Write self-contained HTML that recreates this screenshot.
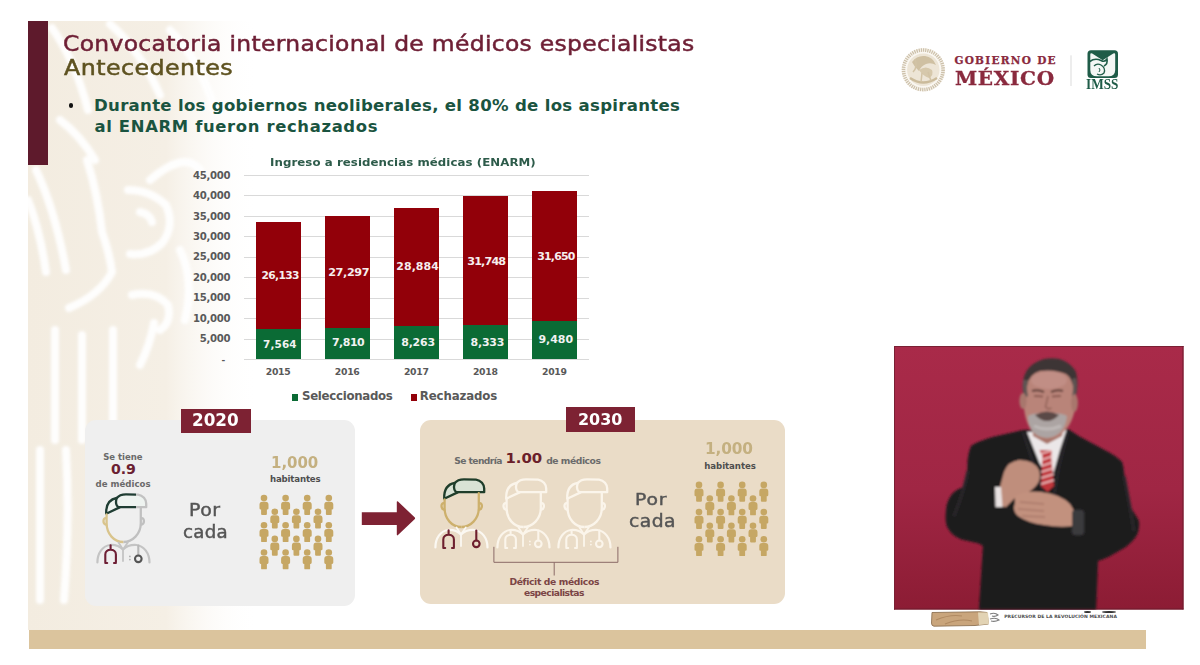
<!DOCTYPE html>
<html lang="es"><head><meta charset="utf-8"><title>Convocatoria internacional de médicos especialistas</title>
<style>
*{margin:0;padding:0;box-sizing:border-box}
html,body{width:1200px;height:665px;overflow:hidden;background:#ffffff}
body{position:relative;font-family:'DejaVu Sans','Liberation Sans',sans-serif}
.t{position:absolute;white-space:nowrap;line-height:1}
.a{position:absolute}
.b{position:absolute}
.g{position:absolute;left:243.5px;width:345.3px;height:1px;background:#d9d9d9}
</style></head><body>
<svg class="a" style="left:0;top:0" width="1200" height="665" viewBox="0 0 1200 665">
<defs><linearGradient id="bgf" x1="0" y1="0" x2="1" y2="0"><stop offset="0" stop-color="#f3ece0"/><stop offset="0.6" stop-color="#f5efe5"/><stop offset="1" stop-color="#ffffff" stop-opacity="0"/></linearGradient>
<linearGradient id="bgt" x1="0" y1="0" x2="1" y2="0"><stop offset="0" stop-color="#f7f3ec"/><stop offset="1" stop-color="#ffffff" stop-opacity="0"/></linearGradient>
<filter id="bgb" x="-10%" y="-10%" width="120%" height="120%"><feGaussianBlur stdDeviation="1.6"/></filter></defs>
<rect x="28" y="21" width="230" height="609" fill="url(#bgf)"/>
<g fill="none" stroke="#ffffff" stroke-width="8" stroke-linecap="round" opacity="0.95" filter="url(#bgb)">
<path d="M52 28 Q75 60 88 110"/>
<path d="M110 24 Q140 50 160 95"/>
<path d="M170 30 Q200 60 215 110"/>
<path d="M60 120 Q80 135 95 160"/>
<path d="M36 170 Q55 210 66 270"/>
<path d="M28 200 Q40 230 46 272"/>
<path d="M87 160 Q98 195 102 232 Q110 255 112 272 Q100 295 69 308"/>
<path d="M128 190 Q150 190 166 205 Q175 225 163 242 Q150 256 130 254"/>
<path d="M140 212 Q150 214 152 222"/>
<path d="M132 295 Q155 290 168 305 Q172 322 160 330"/>
<path d="M55 330 L55 440"/>
<path d="M82 335 L82 440"/>
<path d="M113 330 L113 420"/>
<path d="M154 323 Q150 345 140 365"/>
<path d="M40 450 L40 600"/>
<path d="M66 450 Q70 520 64 600"/>
<path d="M150 180 Q185 150 200 170"/>
<path d="M180 250 Q195 280 185 320"/>
</g>
</svg>
<div class="a" style="left:28px;top:21px;width:20px;height:144px;background:#5e1a2c"></div>
<div class="a" style="left:68.6px;top:103.1px;width:4.5px;height:4.5px;border-radius:50%;background:#111"></div>
<!-- chart -->
<div class="g" style="top:359.00px"></div>
<div class="g" style="top:338.55px"></div>
<div class="g" style="top:318.10px"></div>
<div class="g" style="top:297.65px"></div>
<div class="g" style="top:277.20px"></div>
<div class="g" style="top:256.75px"></div>
<div class="g" style="top:236.30px"></div>
<div class="g" style="top:215.85px"></div>
<div class="g" style="top:195.40px"></div>
<div class="g" style="top:174.95px"></div>
<div class="b" style="left:255.53px;top:221.68px;width:45px;height:106.88px;background:#920009"></div>
<div class="b" style="left:255.53px;top:328.56px;width:45px;height:30.94px;background:#0b6b35"></div>
<div class="b" style="left:324.59px;top:215.91px;width:45px;height:111.64px;background:#920009"></div>
<div class="b" style="left:324.59px;top:327.56px;width:45px;height:31.94px;background:#0b6b35"></div>
<div class="b" style="left:393.65px;top:207.57px;width:45px;height:118.14px;background:#920009"></div>
<div class="b" style="left:393.65px;top:325.70px;width:45px;height:33.80px;background:#0b6b35"></div>
<div class="b" style="left:462.71px;top:195.57px;width:45px;height:129.85px;background:#920009"></div>
<div class="b" style="left:462.71px;top:325.42px;width:45px;height:34.08px;background:#0b6b35"></div>
<div class="b" style="left:531.77px;top:191.28px;width:45px;height:129.45px;background:#920009"></div>
<div class="b" style="left:531.77px;top:320.73px;width:45px;height:38.77px;background:#0b6b35"></div>
<div class="a" style="left:291.9px;top:394.3px;width:6.4px;height:6.3px;background:#0b6b35"></div>
<div class="a" style="left:410.5px;top:394.3px;width:6.5px;height:6.3px;background:#920009"></div>
<!-- 2020 box -->
<div class="a" style="left:85px;top:420px;width:269.5px;height:185.5px;border-radius:11px;background:#efefef"></div>
<div class="a" style="left:181px;top:409px;width:69.5px;height:24.3px;background:#7d2233"></div>
<!-- 2030 box -->
<div class="a" style="left:420.2px;top:420.3px;width:364.8px;height:184px;border-radius:11px;background:#eadcc7"></div>
<div class="a" style="left:565.8px;top:407.3px;width:69px;height:24.5px;background:#7d2233"></div>
<!-- arrow -->
<svg class="a" style="left:355px;top:495px" width="70" height="50" viewBox="355 495 70 50">
<path d="M361.8 512.3 L396.8 512.3 L396.8 502 Q396.8 500.6 398 501.6 L414.6 517.2 Q415.6 518.2 414.6 519.2 L398 535 Q396.8 536 396.8 534.6 L396.8 525.1 L361.8 525.1 Z" fill="#7e2233"/>
</svg>
<!-- bracket -->
<svg class="a" style="left:490px;top:540px" width="135" height="40" viewBox="490 540 135 40">
<path d="M493.9 546.8 V562.3 H617.9 V546.8 M554.2 562.3 V575.5" fill="none" stroke="#8a6a66" stroke-width="1"/>
</svg>
<svg class="a" style="left:92px;top:489px;overflow:visible" width="65" height="80" viewBox="0 0 65 80">
<defs><clipPath id="hla"><rect x="-5" y="-5" width="49" height="90"/></clipPath><clipPath id="hra"><rect x="44" y="-5" width="40" height="90"/></clipPath>
<clipPath id="fla"><rect x="-5" y="-5" width="36.5" height="90"/></clipPath><clipPath id="fra"><rect x="31.5" y="-5" width="40" height="90"/></clipPath></defs>
<g fill="none" stroke-width="2.3" stroke-linecap="round" stroke-linejoin="round">
<path d="M24.6 9.3 C27 6.2 30.5 5.4 34 5.4 L46 5.6 C51 6.2 54.2 10.5 54.2 14.5 L54.2 18.2 L27.6 18.2 C24.4 18.2 23.2 14 24.6 9.3 Z" fill="#eef3f0" stroke="none"/>
<path d="M24.7 9 C18 10.2 13.8 14.4 14.2 24.7 L27.6 18.4 C24.4 17 23.4 13 24.7 9 Z" fill="#eef3f0" stroke="none"/>
<g clip-path="url(#hla)" stroke="#1f3d33">
<path d="M24.6 9.3 C27 6.2 30.5 5.4 34 5.4 L46 5.6 C51 6.2 54.2 10.5 54.2 14.5 L54.2 18.2 L27.6 18.2 C24.4 18.2 23.2 14 24.6 9.3"/>
<path d="M24.7 9 C18 10.2 13.8 14.4 14.2 24.7 L27.6 18.4"/>
</g>
<g clip-path="url(#hra)" stroke="#c2c2c2">
<path d="M24.6 9.3 C27 6.2 30.5 5.4 34 5.4 L46 5.6 C51 6.2 54.2 10.5 54.2 14.5 L54.2 18.2 L27.6 18.2"/>
</g>
<g clip-path="url(#fla)" stroke="#d9c48c">
<path d="M14.6 25.5 L14.6 34 C14.6 45 22 53 31.3 53 C40.6 53 48.8 45 48.8 34 L48.8 19.2"/>
</g>
<g clip-path="url(#fra)" stroke="#c0c0c0">
<path d="M14.6 25.5 L14.6 34 C14.6 45 22 53 31.3 53 C40.6 53 48.8 45 48.8 34 L48.8 19.2"/>
</g>
<path d="M13.8 29.2 C10.8 29 10.6 34.6 13.8 35.6" stroke="#d9c48c"/>
<path d="M49.6 29.2 C52.6 29 52.8 34.6 49.6 35.6" stroke="#c0c0c0"/>
<path d="M5.4 73.4 C5.4 64 10.5 57 18 56 C23.5 55.6 28 57.5 31 60.5" stroke="#c4c4c4" stroke-width="2.2"/>
<path d="M31 60.5 C34 57.5 38.5 55.6 44.5 56 C52 57 57.5 64 57.5 73.4" stroke="#c4c4c4" stroke-width="2.2"/>
<path d="M26.5 53.5 L31 60.5 L35.8 53.5 M31 60.5 L31 72" stroke="#c4c4c4" stroke-width="1.8"/>
<path d="M18.6 56.2 L18.6 60.8 M13.3 73.6 L13.3 65.4 C13.3 62.6 15.6 60.8 18.6 60.8 C21.6 60.8 23.9 62.6 23.9 65.4 L23.9 73.6 M13.3 74 L15.2 74 M22 74 L23.9 74" stroke="#6e1f35" stroke-width="2.1"/>
<path d="M46.3 56.6 L46.3 66.4" stroke="#b8b8b8" stroke-width="2.1"/>
<circle cx="46.3" cy="69.8" r="3.3" stroke="#555555" stroke-width="2.1"/>
<circle cx="37.9" cy="67.4" r="0.9" fill="#b0b0b0" stroke="none"/>
<circle cx="37.9" cy="70.6" r="0.9" fill="#b0b0b0" stroke="none"/>
</g></svg>
<svg class="a" style="left:430px;top:474px;overflow:visible" width="65" height="80" viewBox="0 0 65 80">
<defs><clipPath id="hlb"><rect x="-5" y="-5" width="65" height="90"/></clipPath><clipPath id="hrb"><rect x="60" y="-5" width="40" height="90"/></clipPath>
<clipPath id="flb"><rect x="-5" y="-5" width="36.5" height="90"/></clipPath><clipPath id="frb"><rect x="31.5" y="-5" width="40" height="90"/></clipPath></defs>
<g fill="none" stroke-width="2.3" stroke-linecap="round" stroke-linejoin="round">
<path d="M24.6 9.3 C27 6.2 30.5 5.4 34 5.4 L46 5.6 C51 6.2 54.2 10.5 54.2 14.5 L54.2 18.2 L27.6 18.2 C24.4 18.2 23.2 14 24.6 9.3 Z" fill="#d9e2d5" stroke="none"/>
<path d="M24.7 9 C18 10.2 13.8 14.4 14.2 24.7 L27.6 18.4 C24.4 17 23.4 13 24.7 9 Z" fill="#d9e2d5" stroke="none"/>
<g clip-path="url(#hlb)" stroke="#1f3d2a">
<path d="M24.6 9.3 C27 6.2 30.5 5.4 34 5.4 L46 5.6 C51 6.2 54.2 10.5 54.2 14.5 L54.2 18.2 L27.6 18.2 C24.4 18.2 23.2 14 24.6 9.3"/>
<path d="M24.7 9 C18 10.2 13.8 14.4 14.2 24.7 L27.6 18.4"/>
</g>
<g clip-path="url(#hrb)" stroke="#1f3d2a">
<path d="M24.6 9.3 C27 6.2 30.5 5.4 34 5.4 L46 5.6 C51 6.2 54.2 10.5 54.2 14.5 L54.2 18.2 L27.6 18.2"/>
</g>
<g clip-path="url(#flb)" stroke="#cdb06c">
<path d="M14.6 25.5 L14.6 34 C14.6 45 22 53 31.3 53 C40.6 53 48.8 45 48.8 34 L48.8 19.2"/>
</g>
<g clip-path="url(#frb)" stroke="#cdb06c">
<path d="M14.6 25.5 L14.6 34 C14.6 45 22 53 31.3 53 C40.6 53 48.8 45 48.8 34 L48.8 19.2"/>
</g>
<path d="M13.8 29.2 C10.8 29 10.6 34.6 13.8 35.6" stroke="#cdb06c"/>
<path d="M49.6 29.2 C52.6 29 52.8 34.6 49.6 35.6" stroke="#cdb06c"/>
<path d="M5.4 73.4 C5.4 64 10.5 57 18 56 C23.5 55.6 28 57.5 31 60.5" stroke="#fbf8f2" stroke-width="2.2"/>
<path d="M31 60.5 C34 57.5 38.5 55.6 44.5 56 C52 57 57.5 64 57.5 73.4" stroke="#fbf8f2" stroke-width="2.2"/>
<path d="M26.5 53.5 L31 60.5 L35.8 53.5 M31 60.5 L31 72" stroke="#fbf8f2" stroke-width="1.8"/>
<path d="M18.6 56.2 L18.6 60.8 M13.3 73.6 L13.3 65.4 C13.3 62.6 15.6 60.8 18.6 60.8 C21.6 60.8 23.9 62.6 23.9 65.4 L23.9 73.6 M13.3 74 L15.2 74 M22 74 L23.9 74" stroke="#6e1f2e" stroke-width="2.1"/>
<path d="M46.3 56.6 L46.3 66.4" stroke="#6e1f2e" stroke-width="2.1"/>
<circle cx="46.3" cy="69.8" r="3.3" stroke="#6e1f2e" stroke-width="2.1"/>
<circle cx="37.9" cy="67.4" r="0.9" fill="#e8dcc8" stroke="none"/>
<circle cx="37.9" cy="70.6" r="0.9" fill="#e8dcc8" stroke="none"/>
</g></svg>
<svg class="a" style="left:492.1px;top:474px;overflow:visible" width="65" height="80" viewBox="0 0 65 80">
<defs><clipPath id="hlc"><rect x="-5" y="-5" width="65" height="90"/></clipPath><clipPath id="hrc"><rect x="60" y="-5" width="40" height="90"/></clipPath>
<clipPath id="flc"><rect x="-5" y="-5" width="36.5" height="90"/></clipPath><clipPath id="frc"><rect x="31.5" y="-5" width="40" height="90"/></clipPath></defs>
<g fill="none" stroke-width="2.3" stroke-linecap="round" stroke-linejoin="round">
<path d="M24.6 9.3 C27 6.2 30.5 5.4 34 5.4 L46 5.6 C51 6.2 54.2 10.5 54.2 14.5 L54.2 18.2 L27.6 18.2 C24.4 18.2 23.2 14 24.6 9.3 Z" fill="none" stroke="none"/>
<path d="M24.7 9 C18 10.2 13.8 14.4 14.2 24.7 L27.6 18.4 C24.4 17 23.4 13 24.7 9 Z" fill="none" stroke="none"/>
<g clip-path="url(#hlc)" stroke="#fbf5eb">
<path d="M24.6 9.3 C27 6.2 30.5 5.4 34 5.4 L46 5.6 C51 6.2 54.2 10.5 54.2 14.5 L54.2 18.2 L27.6 18.2 C24.4 18.2 23.2 14 24.6 9.3"/>
<path d="M24.7 9 C18 10.2 13.8 14.4 14.2 24.7 L27.6 18.4"/>
</g>
<g clip-path="url(#hrc)" stroke="#fbf5eb">
<path d="M24.6 9.3 C27 6.2 30.5 5.4 34 5.4 L46 5.6 C51 6.2 54.2 10.5 54.2 14.5 L54.2 18.2 L27.6 18.2"/>
</g>
<g clip-path="url(#flc)" stroke="#fbf5eb">
<path d="M14.6 25.5 L14.6 34 C14.6 45 22 53 31.3 53 C40.6 53 48.8 45 48.8 34 L48.8 19.2"/>
</g>
<g clip-path="url(#frc)" stroke="#fbf5eb">
<path d="M14.6 25.5 L14.6 34 C14.6 45 22 53 31.3 53 C40.6 53 48.8 45 48.8 34 L48.8 19.2"/>
</g>
<path d="M13.8 29.2 C10.8 29 10.6 34.6 13.8 35.6" stroke="#fbf5eb"/>
<path d="M49.6 29.2 C52.6 29 52.8 34.6 49.6 35.6" stroke="#fbf5eb"/>
<path d="M5.4 73.4 C5.4 64 10.5 57 18 56 C23.5 55.6 28 57.5 31 60.5" stroke="#fbf5eb" stroke-width="2.2"/>
<path d="M31 60.5 C34 57.5 38.5 55.6 44.5 56 C52 57 57.5 64 57.5 73.4" stroke="#fbf5eb" stroke-width="2.2"/>
<path d="M26.5 53.5 L31 60.5 L35.8 53.5 M31 60.5 L31 72" stroke="#fbf5eb" stroke-width="1.8"/>
<path d="M18.6 56.2 L18.6 60.8 M13.3 73.6 L13.3 65.4 C13.3 62.6 15.6 60.8 18.6 60.8 C21.6 60.8 23.9 62.6 23.9 65.4 L23.9 73.6 M13.3 74 L15.2 74 M22 74 L23.9 74" stroke="#fbf5eb" stroke-width="2.1"/>
<path d="M46.3 56.6 L46.3 66.4" stroke="#fbf5eb" stroke-width="2.1"/>
<circle cx="46.3" cy="69.8" r="3.3" stroke="#fbf5eb" stroke-width="2.1"/>
<circle cx="37.9" cy="67.4" r="0.9" fill="#fbf5eb" stroke="none"/>
<circle cx="37.9" cy="70.6" r="0.9" fill="#fbf5eb" stroke="none"/>
</g></svg>
<svg class="a" style="left:553.2px;top:474px;overflow:visible" width="65" height="80" viewBox="0 0 65 80">
<defs><clipPath id="hld"><rect x="-5" y="-5" width="65" height="90"/></clipPath><clipPath id="hrd"><rect x="60" y="-5" width="40" height="90"/></clipPath>
<clipPath id="fld"><rect x="-5" y="-5" width="36.5" height="90"/></clipPath><clipPath id="frd"><rect x="31.5" y="-5" width="40" height="90"/></clipPath></defs>
<g fill="none" stroke-width="2.3" stroke-linecap="round" stroke-linejoin="round">
<path d="M24.6 9.3 C27 6.2 30.5 5.4 34 5.4 L46 5.6 C51 6.2 54.2 10.5 54.2 14.5 L54.2 18.2 L27.6 18.2 C24.4 18.2 23.2 14 24.6 9.3 Z" fill="none" stroke="none"/>
<path d="M24.7 9 C18 10.2 13.8 14.4 14.2 24.7 L27.6 18.4 C24.4 17 23.4 13 24.7 9 Z" fill="none" stroke="none"/>
<g clip-path="url(#hld)" stroke="#fbf5eb">
<path d="M24.6 9.3 C27 6.2 30.5 5.4 34 5.4 L46 5.6 C51 6.2 54.2 10.5 54.2 14.5 L54.2 18.2 L27.6 18.2 C24.4 18.2 23.2 14 24.6 9.3"/>
<path d="M24.7 9 C18 10.2 13.8 14.4 14.2 24.7 L27.6 18.4"/>
</g>
<g clip-path="url(#hrd)" stroke="#fbf5eb">
<path d="M24.6 9.3 C27 6.2 30.5 5.4 34 5.4 L46 5.6 C51 6.2 54.2 10.5 54.2 14.5 L54.2 18.2 L27.6 18.2"/>
</g>
<g clip-path="url(#fld)" stroke="#fbf5eb">
<path d="M14.6 25.5 L14.6 34 C14.6 45 22 53 31.3 53 C40.6 53 48.8 45 48.8 34 L48.8 19.2"/>
</g>
<g clip-path="url(#frd)" stroke="#fbf5eb">
<path d="M14.6 25.5 L14.6 34 C14.6 45 22 53 31.3 53 C40.6 53 48.8 45 48.8 34 L48.8 19.2"/>
</g>
<path d="M13.8 29.2 C10.8 29 10.6 34.6 13.8 35.6" stroke="#fbf5eb"/>
<path d="M49.6 29.2 C52.6 29 52.8 34.6 49.6 35.6" stroke="#fbf5eb"/>
<path d="M5.4 73.4 C5.4 64 10.5 57 18 56 C23.5 55.6 28 57.5 31 60.5" stroke="#fbf5eb" stroke-width="2.2"/>
<path d="M31 60.5 C34 57.5 38.5 55.6 44.5 56 C52 57 57.5 64 57.5 73.4" stroke="#fbf5eb" stroke-width="2.2"/>
<path d="M26.5 53.5 L31 60.5 L35.8 53.5 M31 60.5 L31 72" stroke="#fbf5eb" stroke-width="1.8"/>
<path d="M18.6 56.2 L18.6 60.8 M13.3 73.6 L13.3 65.4 C13.3 62.6 15.6 60.8 18.6 60.8 C21.6 60.8 23.9 62.6 23.9 65.4 L23.9 73.6 M13.3 74 L15.2 74 M22 74 L23.9 74" stroke="#fbf5eb" stroke-width="2.1"/>
<path d="M46.3 56.6 L46.3 66.4" stroke="#fbf5eb" stroke-width="2.1"/>
<circle cx="46.3" cy="69.8" r="3.3" stroke="#fbf5eb" stroke-width="2.1"/>
<circle cx="37.9" cy="67.4" r="0.9" fill="#fbf5eb" stroke="none"/>
<circle cx="37.9" cy="70.6" r="0.9" fill="#fbf5eb" stroke="none"/>
</g></svg>
<svg class="a" style="left:0;top:0" width="1200" height="665" viewBox="0 0 1200 665">
<defs>
<g id="person"><circle cx="5" cy="3.5" r="3.3"/><path d="M0.5 10 Q0.5 7.1 3.4 7.1 H6.6 Q9.5 7.1 9.5 10 V13.6 Q9.5 14.9 8.3 14.9 H7.9 V19.4 Q7.9 20.3 6.9 20.3 H3.1 Q2.1 20.3 2.1 19.4 V14.9 H1.7 Q0.5 14.9 0.5 13.6 Z"/></g>
</defs>
<g fill="#c6a764">
<use href="#person" x="259.00" y="494.60"/>
<use href="#person" x="280.60" y="494.60"/>
<use href="#person" x="302.20" y="494.60"/>
<use href="#person" x="323.80" y="494.60"/>
<use href="#person" x="269.80" y="508.20"/>
<use href="#person" x="291.40" y="508.20"/>
<use href="#person" x="313.00" y="508.20"/>
<use href="#person" x="259.00" y="521.80"/>
<use href="#person" x="280.60" y="521.80"/>
<use href="#person" x="302.20" y="521.80"/>
<use href="#person" x="323.80" y="521.80"/>
<use href="#person" x="269.80" y="535.40"/>
<use href="#person" x="291.40" y="535.40"/>
<use href="#person" x="313.00" y="535.40"/>
<use href="#person" x="259.00" y="549.00"/>
<use href="#person" x="280.60" y="549.00"/>
<use href="#person" x="302.20" y="549.00"/>
<use href="#person" x="323.80" y="549.00"/>
<use href="#person" x="694.00" y="481.40"/>
<use href="#person" x="715.60" y="481.40"/>
<use href="#person" x="737.20" y="481.40"/>
<use href="#person" x="758.80" y="481.40"/>
<use href="#person" x="704.80" y="495.00"/>
<use href="#person" x="726.40" y="495.00"/>
<use href="#person" x="748.00" y="495.00"/>
<use href="#person" x="694.00" y="508.60"/>
<use href="#person" x="715.60" y="508.60"/>
<use href="#person" x="737.20" y="508.60"/>
<use href="#person" x="758.80" y="508.60"/>
<use href="#person" x="704.80" y="522.20"/>
<use href="#person" x="726.40" y="522.20"/>
<use href="#person" x="748.00" y="522.20"/>
<use href="#person" x="694.00" y="535.80"/>
<use href="#person" x="715.60" y="535.80"/>
<use href="#person" x="737.20" y="535.80"/>
<use href="#person" x="758.80" y="535.80"/>
</g>
</svg>
<svg class="a" style="left:890px;top:40px" width="240" height="60" viewBox="890 40 240 60">
<circle cx="923.3" cy="69.8" r="21.8" fill="#faf7f1"/>
<circle cx="923.3" cy="69.8" r="19.8" fill="none" stroke="#cdc1ab" stroke-width="3.6" stroke-dasharray="1.3 0.9"/>
<circle cx="923.3" cy="69.8" r="16.2" fill="#ede5d6"/>
<path d="M912 62 Q917 55 925 56 Q933 57 936 65 Q931 62 926 64 Q921 66 919 71 Q915 68 912 62 Z" fill="#cfc0a2"/>
<path d="M919 70 Q926 65 932 70 Q934 75 929 78 Q923 76 919 70 Z" fill="#d6c8ab"/>
<path d="M910 78 Q923 87 937 78" stroke="#cbbb9b" stroke-width="2.4" fill="none"/>
<path d="M915 59 Q918 67 913 72 M928 72 L931 81 M922 73 L921 82" stroke="#d2c3a5" stroke-width="1.5" fill="none"/>
<rect x="1070.5" y="55.3" width="1" height="30.7" fill="#dcdcdc"/>
<rect x="1087.5" y="50.3" width="30.5" height="27.8" rx="3.5" fill="#1f5c48"/>
<path d="M1090.3 54.5 Q1090.3 52.6 1092.2 53.4 L1102.7 60.2 L1113.3 53.4 Q1115.2 52.6 1115.2 54.5 L1115.2 70 Q1115 76.3 1108.5 76.3 L1097 76.3 Q1090.3 76.3 1090.3 70 Z" fill="#f4f7f5"/>
<path d="M1089.8 61.5 Q1095 57.5 1101 60.5 Q1105 62.5 1107 59 Q1108 64 1104 66" stroke="#1f5c48" stroke-width="1.6" fill="none"/>
<path d="M1094 66 Q1097 63 1101 65 Q1106 68 1104 73 Q1101 76 1097 74" stroke="#1f5c48" stroke-width="1.3" fill="none"/>
<path d="M1099 68 Q1101 70 1099 72" stroke="#1f5c48" stroke-width="1" fill="none"/>
</svg>
<svg class="a" style="left:894px;top:346px" width="289.5" height="263.5" viewBox="0 0 289.5 263.5">
<defs>
<linearGradient id="vbg" x1="0" y1="0" x2="0" y2="1"><stop offset="0" stop-color="#a92a49"/><stop offset="0.55" stop-color="#a02644"/><stop offset="1" stop-color="#8c1c34"/></linearGradient>
<filter id="vb" x="-5%" y="-5%" width="110%" height="110%"><feGaussianBlur stdDeviation="0.9"/></filter>
</defs>
<rect width="289.5" height="263.5" fill="url(#vbg)"/>
<rect x="0" y="0" width="289.5" height="1" fill="#7a2034"/>
<rect x="0" y="0" width="1" height="263.5" fill="#7a2034"/>
<rect x="288.5" y="0" width="1" height="263.5" fill="#6f1a2c"/>
<rect x="0" y="262.5" width="289.5" height="1" fill="#6f1a2c"/>
<g filter="url(#vb)">
<!-- suit -->
<path d="M129 84 L98.5 91 Q82 96 77 100 Q73 110 73.4 123 L71.4 140.7 Q62 143 57.7 148.5 Q52 156 51.9 166 Q51 178 53.8 182 Q58 190 67.5 193.5 L85 197.4 L89 200 L85 263.5 L202 263.5 L204 215 Q210 213 215.3 210.4 L231 201.4 Q240 195 243.6 187.8 Q246 180 244.7 174.3 Q240 166 234.5 158.5 L231.1 140.4 Q230 120 227.8 115.6 Q222 110 215.3 106.6 L186 90.8 L174 83 Z" fill="#1e1c1f"/>
<path d="M129 86 L140 120 L150 150 M174 85 L165 120 L160 150" stroke="#2c2a2e" stroke-width="2" fill="none"/>
<path d="M74 125 Q70 145 60 170 M230 130 Q236 160 240 185" stroke="#2a282b" stroke-width="3" fill="none"/>
<!-- shirt -->
<path d="M133 86 L172.5 84 L166 104 L159.8 126 L152 128 L145.4 117 Z" fill="#ebe7e8"/>
<!-- tie -->
<path d="M145.5 104 L158 104 L157 110 L160 140 L153.5 146 L147 140 L148.5 110 Z" fill="#c0343b"/>
<path d="M146 108 L158 104.5 M147.5 114 L159 110 M147.5 120 L159.5 116 M147 126 L160 122 M147 132 L160 128 M147 138 L160 134" stroke="#efc6c6" stroke-width="1.5"/>
<!-- neck -->
<path d="M138 76 L170 76 L168 90 L153 98 L139 90 Z" fill="#a97569"/>
<!-- head/face -->
<path d="M130 44 Q129 22 153 16 Q177 15 181 34 Q183 50 181 62 Q178 82 164 90 Q153 95 143 90 Q132 82 130 62 Z" fill="#b98479"/>
<ellipse cx="155" cy="34" rx="18" ry="9" fill="#c4938a" opacity="0.7"/>
<!-- hair -->
<path d="M129 46 Q126 20 150 13 Q172 9 182 26 Q185 38 182 50 L180 44 Q178 32 172 28 Q160 23 146 25 Q135 28 133 40 L132 50 Z" fill="#3d3434"/>
<path d="M129 34 Q128 44 131 52 L134 50 Q132 42 134 34 Z M182 32 Q184 44 181 52 L178 50 Q180 42 178 33 Z" fill="#5e5553"/>
<!-- ears -->
<ellipse cx="129" cy="55" rx="3.6" ry="8" fill="#a8776d"/>
<ellipse cx="180.5" cy="57" rx="3.4" ry="9" fill="#a8776d"/>
<!-- eyes / brows / nose -->
<path d="M138 45 Q144 43 150 46 M157 46 Q163 43 169 45" stroke="#5a3a34" stroke-width="2" fill="none"/>
<path d="M140 50 L149 50.5 M158 50.5 L167 50" stroke="#7a4a42" stroke-width="1.4"/>
<path d="M154 50 L151.5 61 Q154 64 157.5 62" stroke="#94645a" stroke-width="1.6" fill="none"/>
<!-- beard -->
<path d="M134 70 Q134 90 153 92 Q171 90 173 70 Q166 66 153 68 Q141 66 134 70 Z" fill="#aca4a3"/>
<path d="M140 80 Q153 86 167 80" stroke="#c8c2c1" stroke-width="3" fill="none" opacity="0.7"/>
<path d="M141 69 Q153 62 165 69 Q159 75 153 75 Q147 75 141 69 Z" fill="#5a4846"/>
<!-- hands -->
<path d="M104 148 L110 126 Q114 115 126 114 Q140 114 145 124 Q148 134 141 141 Q133 149 121 152 L112 161 L104 160 Z" fill="#bf8e7c"/>
<path d="M101 141 L107 141 L108.5 161 L101.5 161 Z" fill="#e8e2e2"/>
<path d="M121 150 Q132 144 147 146 Q166 148 176 158 L182 168 L179 180 Q166 182 150 179 Q134 177 124 170 Q118 165 121 157 Z" fill="#c2917e"/>
<path d="M126 156 L150 158 M124 163 L150 165 M128 170 L151 171" stroke="#9e6e60" stroke-width="1"/>
<rect x="178" y="164" width="12" height="25" rx="3" fill="#3a3a3e"/>
</g>
</svg>
<svg class="a" style="left:928px;top:609px" width="75" height="20" viewBox="928 609 75 20">
<path d="M932 612.5 L980 611.8 L987 612.5 L988.5 624 L975 625.5 L934 626.2 Q931.5 626 931.5 623 Z" fill="#c9a57c" stroke="#8f7354" stroke-width="0.9"/>
<path d="M936 620 Q950 614 962 616 M945 624 Q960 618 972 621" stroke="#b08a62" stroke-width="1.2" fill="none"/>
<path d="M978 612.5 L988 612.5 L989 624 L979 625 Z" fill="#e2d3b4"/>
<path d="M990 614 Q995 612 998 615 Q995 617 992 616 M990 619 Q996 617 999 620 Q995 622 991 621" stroke="#7d7d7d" stroke-width="1.1" fill="none"/>
</svg>
<div class="a" style="left:1083.5px;top:611px;width:7px;height:2px;border-radius:50%;background:#333"></div><div class="a" style="left:1102px;top:611px;width:13.5px;height:2px;border-radius:50%;background:#333"></div>
<!-- bottom stripe -->
<div class="a" style="left:28.5px;top:630px;width:1117.5px;height:19px;background:#dbc49d"></div>
<span class="t" style="left:62.59px;top:32.78px;font:normal 21.096px 'DejaVu Sans', 'Liberation Sans', sans-serif;line-height:1;letter-spacing:0.278px;color:#6e1f35;transform:scaleX(1.1119);transform-origin:0 0;-webkit-text-stroke:0.5px #6e1f35;">Convocatoria internacional de médicos especialistas</span>
<span class="t" style="left:63.50px;top:57.38px;font:normal 21.096px 'DejaVu Sans', 'Liberation Sans', sans-serif;line-height:1;letter-spacing:0.371px;color:#5e5220;transform:scaleX(1.1273);transform-origin:0 0;-webkit-text-stroke:0.5px #5e5220;">Antecedentes</span>
<span class="t" style="left:94.00px;top:97.68px;font:bold 16.575px 'DejaVu Sans', 'Liberation Sans', sans-serif;line-height:1;letter-spacing:0.293px;color:#1a5440;">Durante los gobiernos neoliberales, el 80% de los aspirantes</span>
<span class="t" style="left:94.50px;top:118.89px;font:bold 16.438px 'DejaVu Sans', 'Liberation Sans', sans-serif;line-height:1;letter-spacing:0.649px;color:#1a5440;">al ENARM fueron rechazados</span>
<span class="t" style="left:269.96px;top:157.05px;font:bold 11.370px 'DejaVu Sans', 'Liberation Sans', sans-serif;line-height:1;letter-spacing:0.063px;color:#2d5b4a;transform:scaleX(1.0371);transform-origin:0 0;">Ingreso a residencias médicas (ENARM)</span>
<span class="t" style="left:199.82px;top:334.23px;font:bold 10.137px 'DejaVu Sans', 'Liberation Sans', sans-serif;line-height:1;letter-spacing:-0.350px;color:#595959;">5,000</span>
<span class="t" style="left:193.12px;top:313.78px;font:bold 10.137px 'DejaVu Sans', 'Liberation Sans', sans-serif;line-height:1;letter-spacing:-0.350px;color:#595959;">10,000</span>
<span class="t" style="left:193.12px;top:293.33px;font:bold 10.137px 'DejaVu Sans', 'Liberation Sans', sans-serif;line-height:1;letter-spacing:-0.350px;color:#595959;">15,000</span>
<span class="t" style="left:193.12px;top:272.88px;font:bold 10.137px 'DejaVu Sans', 'Liberation Sans', sans-serif;line-height:1;letter-spacing:-0.350px;color:#595959;">20,000</span>
<span class="t" style="left:193.12px;top:252.43px;font:bold 10.137px 'DejaVu Sans', 'Liberation Sans', sans-serif;line-height:1;letter-spacing:-0.350px;color:#595959;">25,000</span>
<span class="t" style="left:193.12px;top:231.98px;font:bold 10.137px 'DejaVu Sans', 'Liberation Sans', sans-serif;line-height:1;letter-spacing:-0.350px;color:#595959;">30,000</span>
<span class="t" style="left:193.12px;top:211.53px;font:bold 10.137px 'DejaVu Sans', 'Liberation Sans', sans-serif;line-height:1;letter-spacing:-0.350px;color:#595959;">35,000</span>
<span class="t" style="left:193.12px;top:191.08px;font:bold 10.137px 'DejaVu Sans', 'Liberation Sans', sans-serif;line-height:1;letter-spacing:-0.350px;color:#595959;">40,000</span>
<span class="t" style="left:193.12px;top:170.63px;font:bold 10.137px 'DejaVu Sans', 'Liberation Sans', sans-serif;line-height:1;letter-spacing:-0.350px;color:#595959;">45,000</span>
<span class="t" style="left:221.50px;top:356.24px;font:bold 9.000px 'DejaVu Sans', 'Liberation Sans', sans-serif;line-height:1;letter-spacing:0.000px;color:#595959;">-</span>
<span class="t" style="left:263.10px;top:339.05px;font:bold 10.411px 'DejaVu Sans', 'Liberation Sans', sans-serif;line-height:1;letter-spacing:0.131px;color:#f2f2f2;">7,564</span>
<span class="t" style="left:261.50px;top:270.62px;font:bold 10.685px 'DejaVu Sans', 'Liberation Sans', sans-serif;line-height:1;letter-spacing:-0.651px;color:#f6eeee;">26,133</span>
<span class="t" style="left:265.78px;top:367.48px;font:bold 9.315px 'DejaVu Sans', 'Liberation Sans', sans-serif;line-height:1;letter-spacing:-0.300px;color:#595959;">2015</span>
<span class="t" style="left:331.90px;top:338.19px;font:bold 10.959px 'DejaVu Sans', 'Liberation Sans', sans-serif;line-height:1;letter-spacing:-0.446px;color:#f2f2f2;">7,810</span>
<span class="t" style="left:328.20px;top:266.76px;font:bold 11.233px 'DejaVu Sans', 'Liberation Sans', sans-serif;line-height:1;letter-spacing:-0.377px;color:#f6eeee;">27,297</span>
<span class="t" style="left:334.84px;top:367.48px;font:bold 9.315px 'DejaVu Sans', 'Liberation Sans', sans-serif;line-height:1;letter-spacing:-0.300px;color:#595959;">2016</span>
<span class="t" style="left:401.30px;top:337.79px;font:bold 10.959px 'DejaVu Sans', 'Liberation Sans', sans-serif;line-height:1;letter-spacing:-0.221px;color:#f2f2f2;">8,263</span>
<span class="t" style="left:396.30px;top:262.39px;font:bold 10.959px 'DejaVu Sans', 'Liberation Sans', sans-serif;line-height:1;letter-spacing:0.061px;color:#f6eeee;">28,884</span>
<span class="t" style="left:403.90px;top:367.48px;font:bold 9.315px 'DejaVu Sans', 'Liberation Sans', sans-serif;line-height:1;letter-spacing:-0.300px;color:#595959;">2017</span>
<span class="t" style="left:470.60px;top:337.79px;font:bold 10.959px 'DejaVu Sans', 'Liberation Sans', sans-serif;line-height:1;letter-spacing:-0.221px;color:#f2f2f2;">8,333</span>
<span class="t" style="left:467.30px;top:255.96px;font:bold 11.233px 'DejaVu Sans', 'Liberation Sans', sans-serif;line-height:1;letter-spacing:-0.897px;color:#f6eeee;">31,748</span>
<span class="t" style="left:472.96px;top:367.48px;font:bold 9.315px 'DejaVu Sans', 'Liberation Sans', sans-serif;line-height:1;letter-spacing:-0.300px;color:#595959;">2018</span>
<span class="t" style="left:538.40px;top:335.09px;font:bold 10.959px 'DejaVu Sans', 'Liberation Sans', sans-serif;line-height:1;letter-spacing:0.029px;color:#f2f2f2;">9,480</span>
<span class="t" style="left:537.30px;top:251.59px;font:bold 10.959px 'DejaVu Sans', 'Liberation Sans', sans-serif;line-height:1;letter-spacing:-0.839px;color:#f6eeee;">31,650</span>
<span class="t" style="left:542.02px;top:367.48px;font:bold 9.315px 'DejaVu Sans', 'Liberation Sans', sans-serif;line-height:1;letter-spacing:-0.300px;color:#595959;">2019</span>
<span class="t" style="left:302.00px;top:390.70px;font:bold 11.781px 'DejaVu Sans', 'Liberation Sans', sans-serif;line-height:1;letter-spacing:-0.296px;color:#595959;">Seleccionados</span>
<span class="t" style="left:419.80px;top:390.70px;font:bold 11.781px 'DejaVu Sans', 'Liberation Sans', sans-serif;line-height:1;letter-spacing:-0.125px;color:#595959;">Rechazados</span>
<span class="t" style="left:191.91px;top:412.43px;font:bold 16.986px 'DejaVu Sans', 'Liberation Sans', sans-serif;line-height:1;letter-spacing:-0.042px;color:#ffffff;transform:scaleX(0.9891);transform-origin:0 0;">2020</span>
<span class="t" style="left:103.21px;top:452.77px;font:bold 8.493px 'DejaVu Sans', 'Liberation Sans', sans-serif;line-height:1;letter-spacing:0.000px;color:#6a6a6a;">Se tiene</span>
<span class="t" style="left:110.91px;top:462.15px;font:bold 14.110px 'DejaVu Sans', 'Liberation Sans', sans-serif;line-height:1;letter-spacing:0.000px;color:#6b1e32;">0.9</span>
<span class="t" style="left:95.50px;top:480.08px;font:bold 8.600px 'DejaVu Sans', 'Liberation Sans', sans-serif;line-height:1;letter-spacing:0.017px;color:#6a6a6a;">de médicos</span>
<span class="t" style="left:188.92px;top:502.07px;font:normal 17.534px 'DejaVu Sans', 'Liberation Sans', sans-serif;line-height:1;letter-spacing:0.437px;color:#555555;transform:scaleX(1.0796);transform-origin:0 0;-webkit-text-stroke:0.45px #555555;">Por</span>
<span class="t" style="left:183.20px;top:523.90px;font:normal 17.500px 'DejaVu Sans', 'Liberation Sans', sans-serif;line-height:1;letter-spacing:0.235px;color:#555555;transform:scaleX(1.0413);transform-origin:0 0;-webkit-text-stroke:0.45px #555555;">cada</span>
<span class="t" style="left:271.00px;top:455.84px;font:bold 15.068px 'DejaVu Sans', 'Liberation Sans', sans-serif;line-height:1;letter-spacing:-0.033px;color:#c4b080;transform:scaleX(0.9958);transform-origin:0 0;">1,000</span>
<span class="t" style="left:270.00px;top:474.68px;font:bold 8.600px 'DejaVu Sans', 'Liberation Sans', sans-serif;line-height:1;letter-spacing:-0.164px;color:#4e4e4e;">habitantes</span>
<span class="t" style="left:577.71px;top:412.22px;font:bold 16.164px 'DejaVu Sans', 'Liberation Sans', sans-serif;line-height:1;letter-spacing:-0.042px;color:#ffffff;transform:scaleX(0.9886);transform-origin:0 0;">2030</span>
<span class="t" style="left:454.20px;top:455.99px;font:bold 9.178px 'DejaVu Sans', 'Liberation Sans', sans-serif;line-height:1;letter-spacing:-0.578px;color:#6b6b6b;">Se tendría</span>
<span class="t" style="left:505.60px;top:451.16px;font:bold 14.932px 'DejaVu Sans', 'Liberation Sans', sans-serif;line-height:1;letter-spacing:-0.111px;color:#6b1e2a;">1.00</span>
<span class="t" style="left:546.20px;top:455.97px;font:bold 9.200px 'DejaVu Sans', 'Liberation Sans', sans-serif;line-height:1;letter-spacing:-0.444px;color:#6b6b6b;">de médicos</span>
<span class="t" style="left:635.46px;top:491.89px;font:normal 16.438px 'DejaVu Sans', 'Liberation Sans', sans-serif;line-height:1;letter-spacing:0.675px;color:#555555;transform:scaleX(1.1417);transform-origin:0 0;-webkit-text-stroke:0.45px #555555;">Por</span>
<span class="t" style="left:628.60px;top:513.30px;font:normal 17.500px 'DejaVu Sans', 'Liberation Sans', sans-serif;line-height:1;letter-spacing:0.396px;color:#555555;transform:scaleX(1.0717);transform-origin:0 0;-webkit-text-stroke:0.45px #555555;">cada</span>
<span class="t" style="left:704.72px;top:442.28px;font:bold 15.616px 'DejaVu Sans', 'Liberation Sans', sans-serif;line-height:1;letter-spacing:-0.133px;color:#c4b080;transform:scaleX(0.9838);transform-origin:0 0;">1,000</span>
<span class="t" style="left:704.30px;top:462.28px;font:bold 8.600px 'DejaVu Sans', 'Liberation Sans', sans-serif;line-height:1;letter-spacing:-0.064px;color:#4e4e4e;">habitantes</span>
<span class="t" style="left:509.40px;top:576.97px;font:bold 9.200px 'DejaVu Sans', 'Liberation Sans', sans-serif;line-height:1;letter-spacing:-0.350px;color:#7b4545;">Déficit de médicos</span>
<span class="t" style="left:524.00px;top:588.17px;font:bold 9.200px 'DejaVu Sans', 'Liberation Sans', sans-serif;line-height:1;letter-spacing:-0.555px;color:#7b4545;">especialistas</span>
<span class="t" style="left:954.40px;top:55.14px;font:bold 10.548px 'DejaVu Serif', 'Liberation Serif', serif;line-height:1;letter-spacing:1.283px;color:#8a2a3e;-webkit-text-stroke:0.25px #8a2a3e;">GOBIERNO DE</span>
<span class="t" style="left:955.40px;top:68.62px;font:bold 18.904px 'DejaVu Serif', 'Liberation Serif', serif;line-height:1;letter-spacing:0.669px;color:#8a2a3e;transform:scaleX(1.0592);transform-origin:0 0;-webkit-text-stroke:0.3px #8a2a3e;">MÉXICO</span>
<span class="t" style="left:1086.20px;top:76.94px;font:bold 15.077px 'Liberation Serif', serif;line-height:1;letter-spacing:0.000px;color:#1f5c48;transform:scaleX(0.8805);transform-origin:0 0;">IMSS</span>
<span class="t" style="left:1004.20px;top:615.10px;font:bold 4.521px 'DejaVu Sans', 'Liberation Sans', sans-serif;line-height:1;letter-spacing:0.079px;color:#4a4a4a;">PRECURSOR DE LA REVOLUCIÓN MEXICANA</span>
</body></html>
